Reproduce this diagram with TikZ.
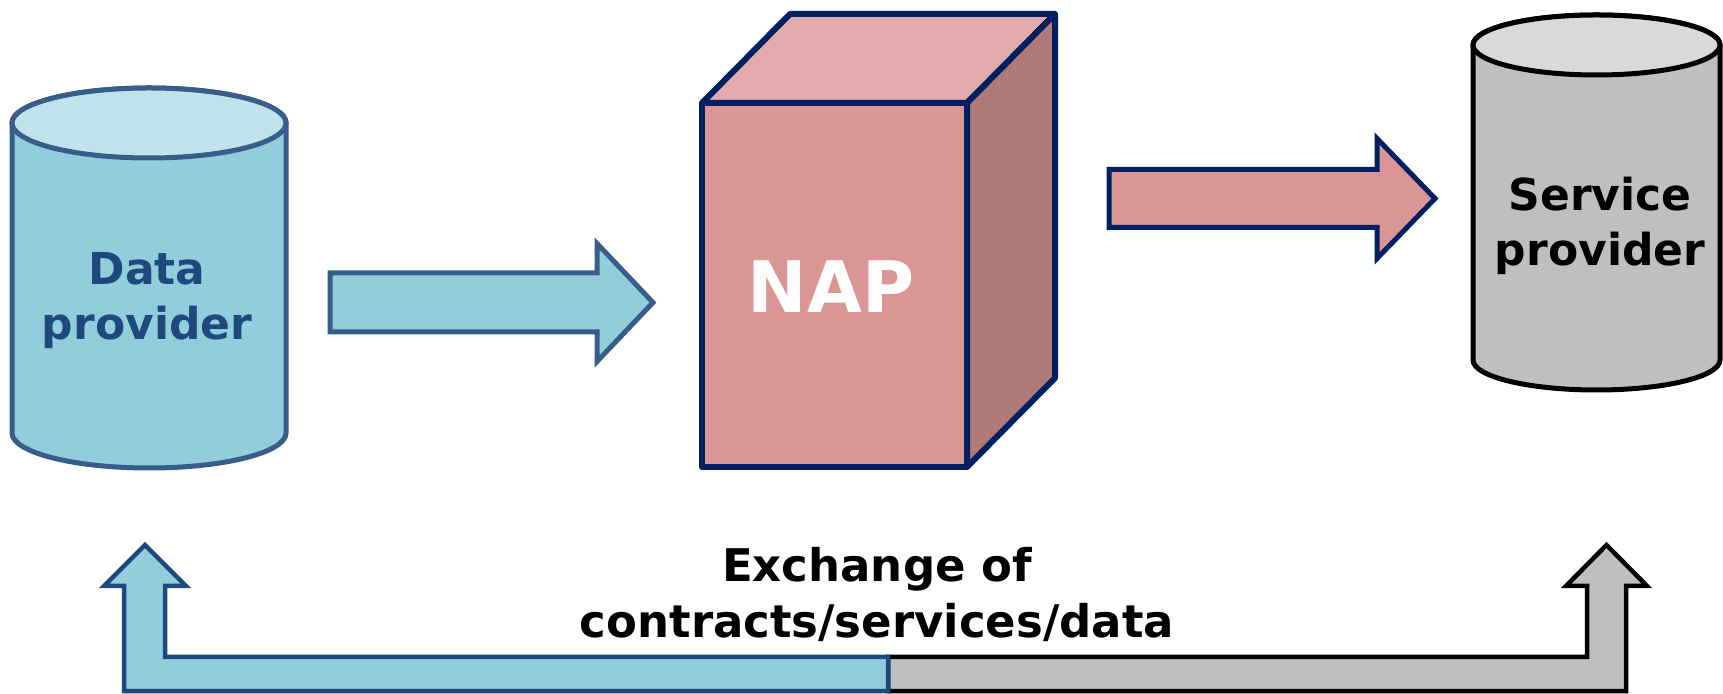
\documentclass[tikz,border=0pt]{standalone}
\usepackage{fontspec}
\setmainfont{DejaVu Sans}
\definecolor{cylblue}{HTML}{92CDDC}
\definecolor{cyltopblue}{HTML}{BFE2EB}
\definecolor{cyllineblue}{HTML}{385D8A}
\definecolor{textblue}{HTML}{1F497D}
\definecolor{navy}{HTML}{002060}
\definecolor{napfront}{HTML}{D99694}
\definecolor{naptop}{HTML}{E2AAAA}
\definecolor{napside}{HTML}{B07A78}
\definecolor{cylgray}{HTML}{BFBFBF}
\definecolor{cyltopgray}{HTML}{D9D9D9}
\begin{document}
\begin{tikzpicture}[x=1pt,y=1pt,line join=miter,
  lbl/.style={font=\bfseries\fontsize{44}{55}\selectfont, align=center, inner sep=0pt},
  cubeface/.style={line width=6pt, navy, line join=round}]
\useasboundingbox (0,0) rectangle (1723,693);

% ---- Data provider cylinder
\draw[line width=5pt, cyllineblue, fill=cylblue]
  (12,570) -- (12,260) arc[start angle=180,end angle=360,x radius=137,y radius=35]
  -- (286,570) arc[start angle=0,end angle=180,x radius=137,y radius=35] -- cycle;
\draw[line width=5pt, cyllineblue, fill=cyltopblue] (149,570) ellipse[x radius=137,y radius=35];
\node[lbl, text=textblue] (dp) at (147,392) {Data\\provider};

% ---- Service provider cylinder
\draw[line width=5pt, black, fill=cylgray]
  (1473,648) -- (1473,333) arc[start angle=180,end angle=360,x radius=123.5,y radius=30]
  -- (1720,648) arc[start angle=0,end angle=180,x radius=123.5,y radius=30] -- cycle;
\draw[line width=5pt, black, fill=cyltopgray] (1596.5,648) ellipse[x radius=123.5,y radius=30];
\node[lbl, text=black] (sp) at (1600,467) {Service\\provider};

% ---- NAP cube
\draw[cubeface, fill=naptop] (702,590) -- (790,679) -- (1055,679) -- (967,590) -- cycle;
\draw[cubeface, fill=napside] (967,590) -- (1055,679) -- (1055,315) -- (967,226) -- cycle;
\draw[cubeface, fill=napfront] (702,226) rectangle (967,590);
\node[font=\bfseries\fontsize{71}{80}\selectfont, text=white, inner sep=0pt] (nap) at (831,406) {NAP};

% ---- arrow data provider -> NAP
\draw[line width=5pt, cyllineblue, fill=cylblue]
  (330,420) -- (597,420) -- (597,449.5) -- (653,390.5) -- (597,331.5) -- (597,361) -- (330,361) -- cycle;

% ---- arrow NAP -> service provider
\draw[line width=5pt, navy, fill=napfront]
  (1109,523.5) -- (1377,523.5) -- (1377,554.5) -- (1435,494.5) -- (1377,434.5) -- (1377,465.5) -- (1109,465.5) -- cycle;

% ---- bottom bent arrows
\draw[line width=4.5pt, black, fill=cylgray]
  (888,36) -- (1587,36) -- (1587,107) -- (1566,107) -- (1606.5,148) -- (1647,107) -- (1626,107)
  -- (1626,2) -- (888,2) -- cycle;
\draw[line width=4.5pt, textblue, fill=cylblue]
  (888,2) -- (124,2) -- (124,107) -- (104,107) -- (145,148) -- (186,107) -- (165,107)
  -- (165,36) -- (888,36) -- cycle;

\node[lbl, font=\bfseries\fontsize{45}{56}\selectfont, text=black] (ex) at (877,99) {Exchange of\\contracts/services/data};
\end{tikzpicture}
\end{document}
